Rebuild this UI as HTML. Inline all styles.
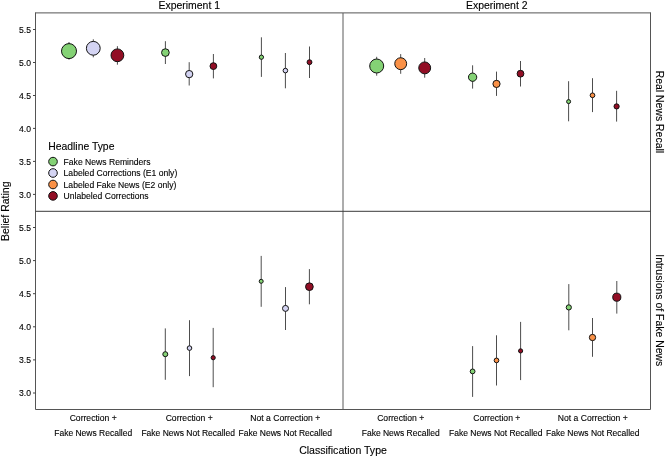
<!DOCTYPE html><html><head><meta charset="utf-8"><style>html,body{margin:0;padding:0;background:#fff;}svg{display:block;will-change:transform;}text{font-family:"Liberation Sans",sans-serif;fill:#000000;stroke:#000;stroke-width:0.12px;}</style></head><body>
<svg width="668" height="456" viewBox="0 0 668 456">
<g stroke="#555555" stroke-width="1" fill="none">
<path d="M35.5,12.7 V409.5 H650.5 V12.7"/>
<line x1="35.0" y1="12.9" x2="651.0" y2="12.9"/>
<line x1="343.0" y1="13.0" x2="343.0" y2="409.5" stroke="#5a5a5a"/>
<line x1="35.5" y1="211.3" x2="650.5" y2="211.3" stroke="#3a3a3a"/>
</g>
<g stroke="#444" stroke-width="1">
<line x1="33" y1="194.4" x2="35.5" y2="194.4"/>
<line x1="33" y1="393.0" x2="35.5" y2="393.0"/>
<line x1="33" y1="161.4" x2="35.5" y2="161.4"/>
<line x1="33" y1="359.9" x2="35.5" y2="359.9"/>
<line x1="33" y1="128.4" x2="35.5" y2="128.4"/>
<line x1="33" y1="326.8" x2="35.5" y2="326.8"/>
<line x1="33" y1="95.5" x2="35.5" y2="95.5"/>
<line x1="33" y1="293.7" x2="35.5" y2="293.7"/>
<line x1="33" y1="62.5" x2="35.5" y2="62.5"/>
<line x1="33" y1="260.6" x2="35.5" y2="260.6"/>
<line x1="33" y1="29.5" x2="35.5" y2="29.5"/>
<line x1="33" y1="227.5" x2="35.5" y2="227.5"/>
</g>
<g font-size="8.6" text-anchor="end">
<text x="31" y="197.5">3.0</text>
<text x="31" y="396.1">3.0</text>
<text x="31" y="164.5">3.5</text>
<text x="31" y="363.0">3.5</text>
<text x="31" y="131.5">4.0</text>
<text x="31" y="329.9">4.0</text>
<text x="31" y="98.6">4.5</text>
<text x="31" y="296.8">4.5</text>
<text x="31" y="65.6">5.0</text>
<text x="31" y="263.7">5.0</text>
<text x="31" y="32.6">5.5</text>
<text x="31" y="230.6">5.5</text>
</g>
<g stroke="#4d4d4d" stroke-width="1">
<line x1="69.0" y1="42.0" x2="69.0" y2="59.7"/>
<line x1="93.3" y1="39.3" x2="93.3" y2="57.3"/>
<line x1="117.4" y1="46.2" x2="117.4" y2="64.7"/>
<line x1="165.4" y1="41.2" x2="165.4" y2="64.0"/>
<line x1="189.2" y1="62.2" x2="189.2" y2="85.5"/>
<line x1="213.4" y1="54.0" x2="213.4" y2="78.4"/>
<line x1="261.4" y1="37.3" x2="261.4" y2="76.9"/>
<line x1="285.4" y1="53.0" x2="285.4" y2="88.3"/>
<line x1="309.5" y1="46.5" x2="309.5" y2="78.0"/>
<line x1="376.7" y1="56.8" x2="376.7" y2="75.7"/>
<line x1="400.7" y1="54.1" x2="400.7" y2="73.8"/>
<line x1="424.7" y1="58.0" x2="424.7" y2="77.7"/>
<line x1="472.6" y1="65.3" x2="472.6" y2="88.6"/>
<line x1="496.5" y1="71.6" x2="496.5" y2="95.9"/>
<line x1="520.5" y1="61.0" x2="520.5" y2="86.5"/>
<line x1="568.6" y1="81.2" x2="568.6" y2="121.3"/>
<line x1="592.5" y1="78.2" x2="592.5" y2="112.1"/>
<line x1="616.6" y1="90.8" x2="616.6" y2="121.6"/>
<line x1="165.3" y1="328.4" x2="165.3" y2="379.8"/>
<line x1="189.5" y1="320.2" x2="189.5" y2="376.1"/>
<line x1="213.2" y1="327.9" x2="213.2" y2="387.2"/>
<line x1="261.2" y1="255.9" x2="261.2" y2="306.8"/>
<line x1="285.5" y1="287.1" x2="285.5" y2="330.0"/>
<line x1="309.4" y1="269.1" x2="309.4" y2="304.3"/>
<line x1="472.6" y1="346.1" x2="472.6" y2="396.9"/>
<line x1="496.5" y1="335.3" x2="496.5" y2="385.5"/>
<line x1="520.6" y1="321.9" x2="520.6" y2="380.1"/>
<line x1="568.8" y1="284.1" x2="568.8" y2="330.3"/>
<line x1="592.5" y1="318.0" x2="592.5" y2="356.8"/>
<line x1="616.8" y1="281.0" x2="616.8" y2="313.6"/>
</g>
<g stroke="#111" stroke-width="1">
<circle cx="69.0" cy="51.1" r="7.50" fill="#84D275"/>
<circle cx="93.3" cy="48.3" r="6.90" fill="#D4D4F3"/>
<circle cx="117.4" cy="55.3" r="6.40" fill="#920E25"/>
<circle cx="165.4" cy="52.6" r="3.85" fill="#84D275"/>
<circle cx="189.2" cy="74.1" r="3.65" fill="#D4D4F3"/>
<circle cx="213.4" cy="66.1" r="3.40" fill="#920E25"/>
<circle cx="261.4" cy="57.2" r="2.15" fill="#84D275"/>
<circle cx="285.4" cy="70.6" r="2.30" fill="#D4D4F3"/>
<circle cx="309.5" cy="62.2" r="2.45" fill="#920E25"/>
<circle cx="376.7" cy="66.0" r="7.00" fill="#84D275"/>
<circle cx="400.7" cy="63.7" r="5.95" fill="#FA9147"/>
<circle cx="424.7" cy="67.9" r="5.95" fill="#920E25"/>
<circle cx="472.6" cy="77.2" r="4.15" fill="#84D275"/>
<circle cx="496.5" cy="83.9" r="3.60" fill="#FA9147"/>
<circle cx="520.5" cy="73.7" r="3.40" fill="#920E25"/>
<circle cx="568.6" cy="101.6" r="2.00" fill="#84D275"/>
<circle cx="592.5" cy="95.3" r="2.35" fill="#FA9147"/>
<circle cx="616.6" cy="106.4" r="2.60" fill="#920E25"/>
<circle cx="165.3" cy="354.2" r="2.50" fill="#84D275"/>
<circle cx="189.5" cy="348.1" r="2.30" fill="#D4D4F3"/>
<circle cx="213.2" cy="357.7" r="2.10" fill="#920E25"/>
<circle cx="261.2" cy="281.3" r="2.00" fill="#84D275"/>
<circle cx="285.5" cy="308.4" r="3.00" fill="#D4D4F3"/>
<circle cx="309.4" cy="286.7" r="3.85" fill="#920E25"/>
<circle cx="472.6" cy="371.4" r="2.40" fill="#84D275"/>
<circle cx="496.5" cy="360.4" r="2.35" fill="#FA9147"/>
<circle cx="520.6" cy="350.9" r="2.10" fill="#920E25"/>
<circle cx="568.8" cy="307.4" r="2.60" fill="#84D275"/>
<circle cx="592.5" cy="337.5" r="3.15" fill="#FA9147"/>
<circle cx="616.8" cy="297.2" r="4.05" fill="#920E25"/>
</g>
<g font-size="10.45" text-anchor="middle">
<text x="189.25" y="8.9">Experiment 1</text>
<text x="496.75" y="8.9">Experiment 2</text>
<text transform="translate(655.8,111.9) rotate(90)">Real News Recall</text>
<text transform="translate(655.8,310.25) rotate(90)">Intrusions of Fake News</text>
<text transform="translate(8.8,211.25) rotate(-90)" font-size="10.5">Belief Rating</text>
<text x="343.0" y="453.7" font-size="10.55">Classification Type</text>
</g>
<g font-size="8.6" text-anchor="middle">
<text x="93.2" y="420.5">Correction +</text><text x="93.2" y="436.3" font-size="8.5">Fake News Recalled</text>
<text x="189.2" y="420.5">Correction +</text><text x="188.2" y="436.3" font-size="8.5">Fake News Not Recalled</text>
<text x="285.3" y="420.5">Not a Correction +</text><text x="285.3" y="436.3" font-size="8.5">Fake News Not Recalled</text>
<text x="400.7" y="420.5">Correction +</text><text x="400.7" y="436.3" font-size="8.5">Fake News Recalled</text>
<text x="496.8" y="420.5">Correction +</text><text x="495.8" y="436.3" font-size="8.5">Fake News Not Recalled</text>
<text x="592.8" y="420.5">Not a Correction +</text><text x="592.8" y="436.3" font-size="8.5">Fake News Not Recalled</text>
</g>
<text x="48.2" y="149.7" font-size="10.4">Headline Type</text>
<circle cx="53" cy="161.6" r="4.3" fill="#84D275" stroke="#111" stroke-width="1"/>
<text x="63.6" y="164.8" font-size="8.6">Fake News Reminders</text>
<circle cx="53" cy="173.0" r="4.3" fill="#D4D4F3" stroke="#111" stroke-width="1"/>
<text x="63.6" y="176.2" font-size="8.6">Labeled Corrections (E1 only)</text>
<circle cx="53" cy="184.5" r="4.3" fill="#FA9147" stroke="#111" stroke-width="1"/>
<text x="63.6" y="187.7" font-size="8.6">Labeled Fake News (E2 only)</text>
<circle cx="53" cy="195.9" r="4.3" fill="#920E25" stroke="#111" stroke-width="1"/>
<text x="63.6" y="199.1" font-size="8.6">Unlabeled Corrections</text>
</svg></body></html>
